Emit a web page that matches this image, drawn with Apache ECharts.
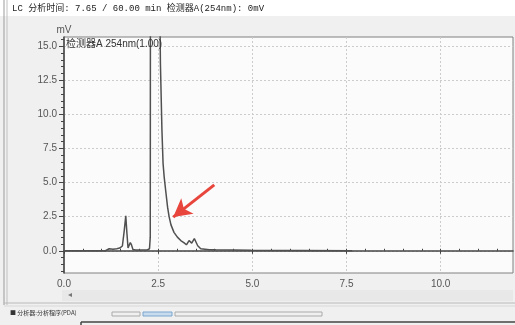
<!DOCTYPE html>
<html>
<head>
<meta charset="utf-8">
<script src="https://cdn.jsdelivr.net/npm/echarts@6/dist/echarts.min.js"></script>
<style>
html,body{margin:0;padding:0;background:#f0f0f0;}
#chart{width:515px;height:325px;}
</style>
</head>
<body>
<div id="chart"></div>
<script>
// Retention time (min)
const timeMin = [0, 1.10, 1.15, 1.20, 1.25, 1.30, 1.40, 1.48, 1.55, 1.60, 1.64, 1.67, 1.70, 1.72, 1.76, 1.79, 1.83, 1.90, 2.20, 2.27, 2.29, 2.30, 2.52, 2.53, 2.56, 2.60, 2.63, 2.66, 2.70, 2.75, 2.79, 2.84, 2.92, 3.01, 3.10, 3.19, 3.25, 3.32, 3.39, 3.46, 3.55, 3.63, 3.86, 4.03, 4.05, 4.97, 5.00, 7.65];
// Detector signal (mV)
const signalMV = [0, 0.0, 0.12, 0.15, 0.08, 0.12, 0.15, 0.2, 0.35, 1.5, 2.56, 1.3, 0.2, 0.1, 0.6, 0.45, 0.1, 0.05, 0.05, 0.15, 1.0, 40, 40, 22, 13.7, 8.85, 6.4, 5.4, 4.4, 3.2, 2.5, 1.9, 1.35, 1.0, 0.75, 0.58, 0.44, 0.75, 0.56, 0.9, 0.37, 0.15, 0.08, 0.07, 0.03, 0.03, 0, 0];
// Tick labels
const xTickLabels = [0, 2.5, 5, 7.5, 10];
const yTickLabels = [0, 2.5, 5, 7.5, 10, 12.5, 15];
// Annotation arrow (from -> to), in data units
const arrowFrom = [3.99, 4.83];
const arrowTo = [2.90, 2.47];

const xMin = 0, xMax = 11.92, yMin = -1.63, yMax = 15.68;
const xMinor = []; for (let v = 0.5; v < xMax; v += 0.5) xMinor.push(+v.toFixed(2));
const yMinor = []; for (let v = -1.5; v < yMax; v += 0.5) yMinor.push(+v.toFixed(2));

const chart = echarts.init(document.getElementById('chart'), null, {renderer: 'canvas'});
const labelFont = {color: '#555', fontSize: 10, fontFamily: 'Liberation Sans, Arial, sans-serif'};

chart.setOption({
  animation: false,
  backgroundColor: '#f0f0f0',
  grid: {left: 64, top: 37, right: 2, bottom: 52, show: true, backgroundColor: '#fbfbfb', borderColor: '#808080', borderWidth: 1},
  xAxis: [{
    type: 'value', min: xMin, max: xMax, position: 'bottom',
    axisLine: {show: true, lineStyle: {color: '#444', width: 1.5}},
    axisTick: {show: true, customValues: xTickLabels, length: 3, lineStyle: {color: '#444'}},
    axisLabel: {customValues: xTickLabels, formatter: v => v.toFixed(1), margin: 6, ...labelFont},
    splitLine: {show: true, lineStyle: {color: '#cccccc', type: [2, 2], width: 1}}
  }, {
    type: 'value', min: xMin, max: xMax, position: 'bottom',
    axisLine: {show: false},
    axisTick: {show: true, customValues: xMinor, inside: true, length: 2, lineStyle: {color: '#444'}},
    axisLabel: {show: false},
    splitLine: {show: false}
  }],
  yAxis: [{
    type: 'value', min: yMin, max: yMax, position: 'left',
    name: 'mV', nameLocation: 'end', nameGap: 2,
    nameTextStyle: {color: '#555', fontSize: 10, fontFamily: 'Liberation Sans, Arial, sans-serif', align: 'center'},
    axisLine: {show: true, lineStyle: {color: '#444', width: 1.5}},
    axisTick: {show: true, customValues: yTickLabels, length: 5, lineStyle: {color: '#444'}},
    axisLabel: {customValues: yTickLabels, formatter: v => v.toFixed(1), margin: 7, ...labelFont},
    splitLine: {show: true, lineStyle: {color: '#cccccc', type: [2, 2], width: 1}}
  }, {
    type: 'value', min: yMin, max: yMax, position: 'left',
    axisLine: {show: false},
    axisTick: {show: true, customValues: yMinor, length: 3, lineStyle: {color: '#444'}},
    axisLabel: {show: false},
    splitLine: {show: false}
  }],
  series: [{
    type: 'line',
    xAxisIndex: 0, yAxisIndex: 0,
    data: timeMin.map((t, i) => [t, signalMV[i]]),
    showSymbol: false,
    clip: true,
    lineStyle: {color: '#505050', width: 1.5},
    markLine: {
      silent: true,
      symbol: ['none', 'arrow'],
      symbolSize: [15, 18],
      label: {show: false},
      lineStyle: {color: '#e8453c', width: 3, type: 'solid'},
      data: [[{coord: arrowFrom}, {coord: arrowTo}]]
    }
  }],
  graphic: [
    {type: 'rect', shape: {x: 0, y: 0, width: 515, height: 16}, style: {fill: '#ffffff'}, silent: true},
    {type: 'line', shape: {x1: 4, y1: 0, x2: 4, y2: 305}, style: {stroke: '#9a9a9a', lineWidth: 1}, silent: true},
    {type: 'line', shape: {x1: 7, y1: 0, x2: 7, y2: 305}, style: {stroke: '#c0c0c0', lineWidth: 1}, silent: true},
    {type: 'text', x: 12, y: 4, style: {text: 'LC 分析时间: 7.65 / 60.00 min 检测器A(254nm): 0mV', fill: '#222', font: '9px "Liberation Mono", "Noto Sans CJK SC", monospace'}, silent: true},
    {type: 'text', x: 66, y: 39, z: 10, style: {text: '检测器A 254nm(1.00)', fill: '#333', font: '10px "Liberation Sans", "Noto Sans CJK SC", sans-serif'}, silent: true},
    {type: 'rect', shape: {x: 62, y: 290, width: 451, height: 11}, style: {fill: '#e8e8e8'}, silent: true},
    {type: 'text', x: 68, y: 291, style: {text: '◂', fill: '#777', font: '8px "DejaVu Sans", sans-serif'}, silent: true},
    {type: 'line', shape: {x1: 4, y1: 303, x2: 515, y2: 303}, style: {stroke: '#b8b8b8', lineWidth: 1}, silent: true},
    {type: 'line', shape: {x1: 4, y1: 306, x2: 515, y2: 306}, style: {stroke: '#d8d8d8', lineWidth: 1}, silent: true},
    {type: 'text', x: 10, y: 310, style: {text: '■ 分析器:分析程序(PDA)', fill: '#333', font: '6px "Noto Sans CJK SC", sans-serif'}, silent: true},
    {type: 'rect', shape: {x: 112, y: 312, width: 28, height: 4}, style: {fill: 'none', stroke: '#aaa', lineWidth: 1}, silent: true},
    {type: 'rect', shape: {x: 143, y: 312, width: 29, height: 4}, style: {fill: '#c9dcef', stroke: '#7ba6cf', lineWidth: 1}, silent: true},
    {type: 'rect', shape: {x: 175, y: 312, width: 147, height: 4}, style: {fill: 'none', stroke: '#aaa', lineWidth: 1}, silent: true},
    {type: 'line', shape: {x1: 81, y1: 322, x2: 515, y2: 322}, style: {stroke: '#444', lineWidth: 1.5}, silent: true},
    {type: 'line', shape: {x1: 81, y1: 322, x2: 81, y2: 325}, style: {stroke: '#444', lineWidth: 1.5}, silent: true}
  ]
});
</script>
</body>
</html>
